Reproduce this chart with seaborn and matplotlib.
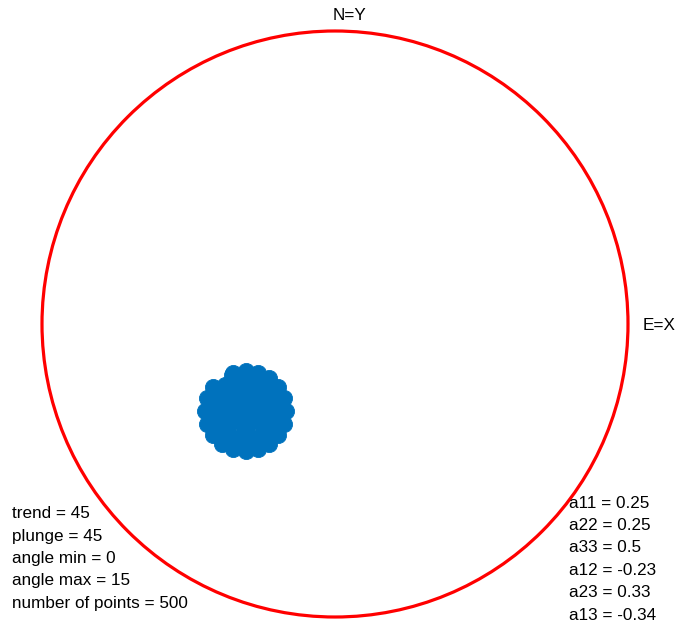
import matplotlib
matplotlib.use("Agg")
import matplotlib.pyplot as plt
from matplotlib.patches import Circle
import seaborn as sns
import pandas as pd

# Projected pole positions (unit-circle stereonet coordinates)
pole_x = [-0.167, -0.174, -0.193, -0.224, -0.262, -0.305, -0.348, -0.375, -0.417, -0.436,
          -0.443, -0.436, -0.417, -0.386, -0.348, -0.305, -0.262, -0.224, -0.193, -0.174,
          -0.190, -0.205, -0.248, -0.305, -0.405, -0.420, -0.405, -0.362, -0.305, -0.248,
          -0.205,
          -0.218, -0.241, -0.282, -0.328, -0.369, -0.392, -0.392, -0.369, -0.328, -0.282,
          -0.241, -0.218,
          -0.246, -0.305, -0.364, -0.364, -0.305, -0.246,
          -0.260, -0.282, -0.328, -0.350, -0.328, -0.282, -0.305, -0.350]
pole_y = [-0.297, -0.254, -0.216, -0.185, -0.166, -0.159, -0.166, -0.207, -0.216, -0.254,
          -0.297, -0.340, -0.378, -0.409, -0.428, -0.435, -0.428, -0.409, -0.378, -0.340,
          -0.297, -0.240, -0.197, -0.182, -0.240, -0.297, -0.355, -0.397, -0.412, -0.397,
          -0.355,
          -0.274, -0.233, -0.210, -0.210, -0.233, -0.274, -0.320, -0.361, -0.384, -0.384,
          -0.361, -0.320,
          -0.263, -0.229, -0.263, -0.331, -0.365, -0.331,
          -0.297, -0.258, -0.258, -0.297, -0.336, -0.336, -0.297, -0.175]

params_left = ["trend = 45", "plunge = 45", "angle min = 0", "angle max = 15",
               "number of points = 500"]
params_right = ["a11 = 0.25", "a22 = 0.25", "a33 = 0.5", "a12 = -0.23",
                "a23 = 0.33", "a13 = -0.34"]

sns.set_theme(style="white")
plt.rcParams["font.family"] = ["Liberation Sans", "DejaVu Sans"]

W, H = 680, 628
fig = plt.figure(figsize=(W / 100, H / 100), dpi=100)
ax = fig.add_axes([0, 0, 1, 1])
scale = 293.0
cxp, cyp = 335.0, 324.0
ax.set_xlim(-cxp / scale, (W - cxp) / scale)
ax.set_ylim(-(H - cyp) / scale, cyp / scale)
ax.set_aspect("equal")
ax.axis("off")

ax.add_patch(Circle((0, 0), 1.0, fill=False, edgecolor="#FF0000", linewidth=2.3))

df = pd.DataFrame({"x": pole_x, "y": pole_y})
sns.scatterplot(data=df, x="x", y="y", ax=ax, s=135, color="#0072BD",
                edgecolor="#0072BD", linewidth=0.6, legend=False)


def px(x, y):
    return (x - cxp) / scale, (cyp - y) / scale


fs = 12.3
ax.text(*px(349, 15), "N=Y", ha="center", va="center", fontsize=fs, color="black")
ax.text(*px(643, 325), "E=X", ha="left", va="center", fontsize=fs, color="black")

for i, s in enumerate(params_left):
    ax.text(*px(12, 514 + 22.3 * i), s, ha="left", va="center", fontsize=fs, color="black")
for i, s in enumerate(params_right):
    ax.text(*px(569, 503 + 22.4 * i), s, ha="left", va="center", fontsize=fs, color="black")

fig.savefig("out.png", dpi=100)
